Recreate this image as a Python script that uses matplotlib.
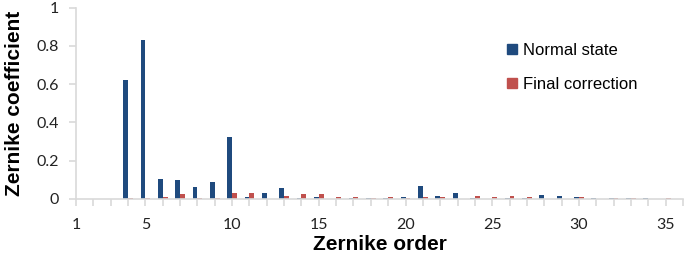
import numpy as np
import matplotlib.pyplot as plt
from matplotlib.lines import Line2D

orders = np.arange(1, 36)
normal_state = [0, 0, 0, 0.624, 0.828, 0.103, 0.098, 0.065, 0.089, 0.326,
                0.012, 0.031, 0.058, 0.004, 0.010, 0.002, 0.005, 0.007, 0.003, 0.010,
                0.066, 0.017, 0.033, 0.003, 0.001, 0.003, 0.005, 0.023, 0.017, 0.009,
                0.007, 0.004, 0.005, 0.005, 0.002]
final_correction = [0, 0, 0, 0.004, 0.003, 0.010, 0.028, 0.005, 0.007, 0.030,
                    0.030, 0.002, 0.018, 0.026, 0.024, 0.009, 0.012, 0.004, 0.012, 0.007,
                    0.012, 0.009, 0.002, 0.017, 0.009, 0.014, 0.009, 0.002, 0.001, 0.009,
                    0.002, 0.003, 0.003, 0.002, 0.007]
xtick_labels = [1, 5, 10, 15, 20, 25, 30, 35]

blue = '#1F4A7E'
red = '#C0504D'
grey = '#D9D9D9'

fig = plt.figure(figsize=(6.85, 2.56), dpi=100)
ax = fig.add_axes([76 / 685, 1 - 199 / 256, 607 / 685, 191.5 / 256])

w = 0.28
ax.bar(orders - w / 2, normal_state, width=w, color=blue, label='Normal state')
ax.bar(orders + w / 2, final_correction, width=w, color=red, label='Final correction')

ax.set_xlim(1, 36)
ax.set_ylim(0, 1)
ax.set_xticks(xtick_labels)
ax.set_xticks(np.arange(1, 37), minor=True)
ax.set_yticks([0, 0.2, 0.4, 0.6, 0.8, 1])
ax.set_yticklabels(['0', '0.2', '0.4', '0.6', '0.8', '1'])

for s in ['top', 'right']:
    ax.spines[s].set_visible(False)
for s in ['left', 'bottom']:
    ax.spines[s].set_color(grey)
    ax.spines[s].set_linewidth(1.2)

ax.tick_params(axis='both', which='both', color=grey, width=1.2, length=5,
               labelsize=11.5, labelcolor='#222222')
ax.tick_params(axis='x', which='major', pad=9)
ax.tick_params(axis='y', pad=7)
for lab in ax.get_xticklabels() + ax.get_yticklabels():
    lab.set_family('Lato')

ax.set_xlabel('Zernike order', fontsize=15, fontweight='bold',
              family='Liberation Sans', labelpad=2)
ax.set_ylabel('Zernike coefficient', fontsize=15, fontweight='bold',
              family='Liberation Sans', labelpad=9)

handles = [Line2D([], [], marker='s', color=blue, linestyle='none', markersize=6.5),
           Line2D([], [], marker='s', color=red, linestyle='none', markersize=6.5)]
ax.legend(handles, ['Normal state', 'Final correction'], loc='upper left',
          bbox_to_anchor=(492 / 685, 1 - 28 / 256), bbox_transform=fig.transFigure,
          frameon=False, handlelength=0.6, handletextpad=0.35, labelspacing=1.15,
          prop={'family': 'Liberation Sans', 'size': 12})

fig.savefig('out.png', dpi=100)
